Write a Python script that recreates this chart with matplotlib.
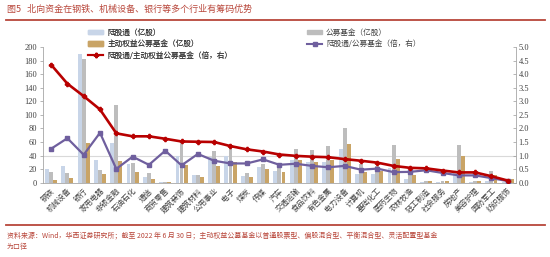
import matplotlib
matplotlib.use("Agg")
import matplotlib.pyplot as plt
import numpy as np
from matplotlib.lines import Line2D
from matplotlib.patches import Patch

plt.rcParams['font.family'] = ['Noto Sans CJK SC', 'DejaVu Sans']

categories = ["钢铁", "机械设备", "银行", "家用电器", "非银金融", "石油石化", "通信", "商贸零售",
              "建筑装饰", "建筑材料", "公用事业", "电子", "煤炭", "传媒", "汽车", "交通运输",
              "食品饮料", "有色金属", "电力设备", "计算机", "基础化工", "医药生物", "农林牧渔",
              "轻工制造", "社会服务", "房地产", "美容护理", "国防军工", "纺织服饰"]
hk_connect = [20, 24.5, 189, 34, 58, 27.5, 9, 1.5, 39, 12, 38, 40, 10.5, 23, 17, 34,
              30, 31, 50, 13, 13, 22, 6, 1.5, 1.2, 15, 0.8, 3, 0.4]
public_funds = [16, 15, 183, 18.5, 114, 28.5, 14, 1.3, 61, 11.3, 47, 57, 15, 27, 26, 49,
                48, 54, 80, 27, 25, 56, 15, 3.2, 3, 56, 3, 18, 6]
active_funds = [4.6, 6.7, 59, 12.6, 32, 16, 5.3, 0.9, 26, 8, 25, 30, 8.5, 20, 16, 34,
                31, 33, 57, 16, 18, 35, 11, 2.8, 2.6, 40, 2.1, 12, 5]
ratio_active = [4.35, 3.65, 3.19, 2.70, 1.82, 1.71, 1.71, 1.62, 1.52, 1.51, 1.50, 1.35,
                1.23, 1.15, 1.04, 0.99, 0.96, 0.94, 0.87, 0.81, 0.74, 0.62, 0.55, 0.53,
                0.45, 0.38, 0.38, 0.24, 0.08]
ratio_public = [1.25, 1.64, 1.03, 1.84, 0.51, 0.96, 0.66, 1.18, 0.64, 1.06, 0.81, 0.71,
                0.71, 0.86, 0.66, 0.70, 0.62, 0.57, 0.62, 0.48, 0.52, 0.39, 0.40, 0.46,
                0.36, 0.27, 0.27, 0.17, 0.06]
left_ticks = [0, 20, 40, 60, 80, 100, 120, 140, 160, 180, 200]
right_ticks = [0.0, 0.5, 1.0, 1.5, 2.0, 2.5, 3.0, 3.5, 4.0, 4.5, 5.0]

title = "图5   北向资金在钢铁、机械设备、银行等多个行业有筹码优势"
source = ("资料来源：Wind，华西证券研究所；截至 2022 年 6 月 30 日；主动权益公募基金以普通股票型、偏股混合型、平衡混合型、灵活配置型基金\n为口径")

c_blue = "#c8d5e8"
c_gray = "#bdbdbd"
c_tan = "#c9a466"
c_red = "#b80000"
c_purple = "#6f5f9e"
c_text = "#404040"
c_brand = "#b8463a"

fig = plt.figure(figsize=(5.5, 2.57), dpi=100)
ax = fig.add_axes([0.078, 0.289, 0.86, 0.528])
ax2 = ax.twinx()

x = np.arange(len(categories))
w = 0.24
ax.bar(x - 0.25, hk_connect, w, color=c_blue, zorder=2)
ax.bar(x, public_funds, w, color=c_gray, zorder=2)
ax.bar(x + 0.25, active_funds, w, color=c_tan, zorder=2)
ax.axhline(40, color="#d9d9d9", lw=0.8, zorder=1)

ax2.plot(x, ratio_public, color=c_purple, lw=1.6, marker='s', ms=2.5, zorder=3)
ax2.plot(x, ratio_active, color=c_red, lw=1.9, marker='P', ms=3, zorder=4)

ax.set_xlim(-0.5, len(categories) - 0.5)
ax.set_ylim(0, 200)
ax2.set_ylim(0, 5.0)
ax.set_yticks(left_ticks)
ax2.set_yticks(right_ticks)
ax.set_yticklabels([str(t) for t in left_ticks], family='Liberation Serif', fontsize=6, color=c_text)
ax2.set_yticklabels([f"{t:.1f}" for t in right_ticks], family='Liberation Serif', fontsize=6, color=c_text)
ax.set_xticks(x)
ax.set_xticklabels(categories, rotation=45, ha='right', rotation_mode='anchor', fontsize=5.5, color=c_text)
ax.tick_params(axis='x', length=0, pad=3)
ax.tick_params(axis='y', length=2, width=0.5, color="#999999", pad=2)
ax2.tick_params(axis='y', length=2, width=0.5, color="#999999", pad=2, direction='in')

for a in (ax, ax2):
    a.spines['top'].set_visible(False)
    for s in ('left', 'right', 'bottom'):
        a.spines[s].set_color("#a6a6a6")
        a.spines[s].set_linewidth(0.6)
ax.spines['right'].set_visible(False)
ax2.spines['left'].set_visible(False)
ax2.spines['bottom'].set_visible(False)

handles1 = [Patch(color=c_blue), Patch(color=c_tan), Line2D([], [], color=c_red, lw=1.5, marker='P', ms=3)]
labels1 = ["陆股通（亿股）", "主动权益公募基金（亿股）", "陆股通/主动权益公募基金（倍，右）"]
handles2 = [Patch(color=c_gray), Line2D([], [], color=c_purple, lw=1.5, marker='s', ms=2.5)]
labels2 = ["公募基金（亿股）", "陆股通/公募基金（倍，右）"]
leg_kw = dict(loc='upper left', frameon=False, fontsize=5.5, handlelength=2.0, handleheight=0.5,
              labelspacing=0.45, handletextpad=0.5, borderaxespad=0, borderpad=0, labelcolor=c_text)
leg1 = fig.legend(handles1, labels1, bbox_to_anchor=(0.16, 0.888), **leg_kw)
fig.add_artist(leg1)
fig.legend(handles2, labels2, bbox_to_anchor=(0.558, 0.888), **leg_kw)

fig.text(0.012, 0.962, title, fontsize=6.5, color=c_brand, va='center', ha='left')
fig.add_artist(Line2D([0.01, 0.99], [0.922, 0.922], color=c_brand, lw=1.3, transform=fig.transFigure))
fig.add_artist(Line2D([0.01, 0.99], [0.124, 0.124], color=c_brand, lw=1.3, transform=fig.transFigure))
fig.text(0.012, 0.098, source, fontsize=5, color=c_brand, va='top', ha='left', linespacing=1.5)

fig.savefig("out.png", dpi=100)
